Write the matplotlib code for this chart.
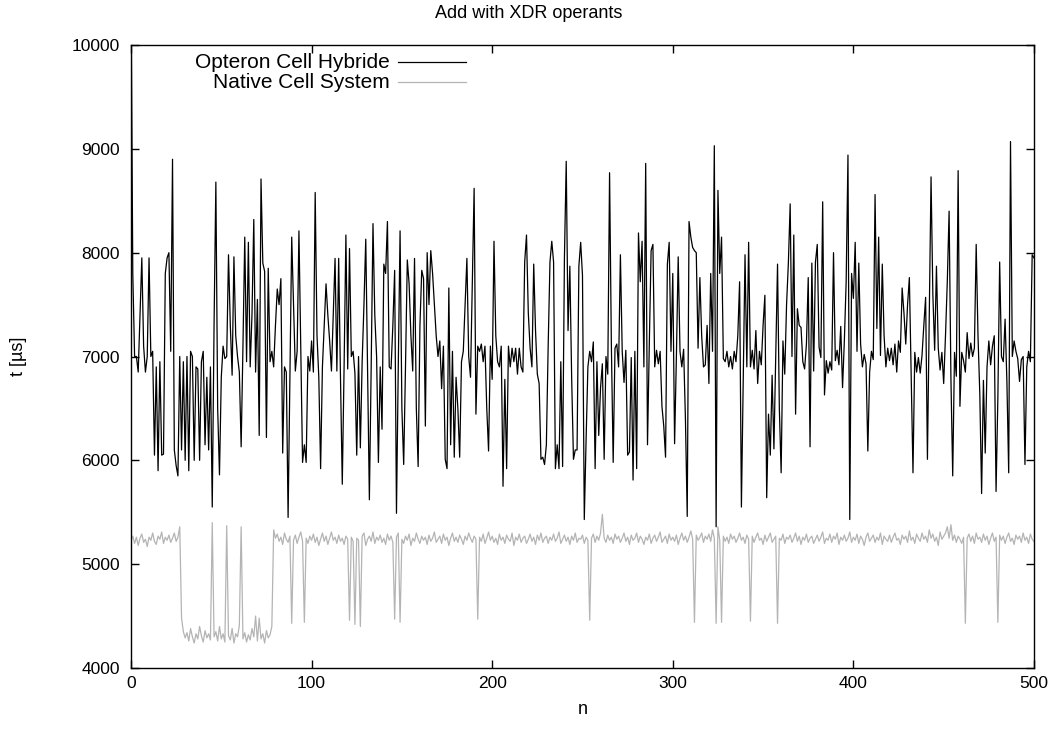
import numpy as np
import matplotlib
matplotlib.use("Agg")
import matplotlib.pyplot as plt
from matplotlib.lines import Line2D

plt.rcParams["font.family"] = ["Liberation Sans", "DejaVu Sans"]

TITLE = "Add with XDR operants"
LABEL_HYBRID = "Opteron Cell Hybride"
LABEL_NATIVE = "Native Cell System"

# t [us] per run (n = 0..500)
hybrid = [
    10600, 7800, 7000, 7000, 6850, 7400, 7950, 7100, 6850, 7000,
    7950, 7000, 7050, 6050, 6900, 5900, 6950, 6050, 6060, 7800,
    7950, 8000, 7050, 8900, 6100, 5950, 5850, 7000, 6100, 6950,
    6000, 7000, 5900, 7050, 7000, 6000, 6900, 6880, 6000, 6950,
    7050, 6150,
    6800, 6100, 6900, 5550, 7300, 8680, 6500, 5860, 6800, 7100,
    6980, 7000, 7980, 7300, 6820, 7960, 7200, 7000, 6850, 6130,
    7100, 8150, 6950, 8100, 6900, 7400, 8320, 6850, 7550, 6240,
    8710, 7900, 7820, 6220, 7850, 6950, 7050, 6900, 7300, 7650,
    7500, 7750,
    6070, 6900, 6850, 5450, 6800, 8150, 7500, 6860, 7050, 8210,
    7100, 5980, 6150, 5980, 7000, 6860, 7150, 6850, 8580, 7200,
    6800, 5920, 6900, 7300, 7700, 7400, 7150, 6860, 7400, 7945,
    6860, 7945, 6800, 5770, 6900, 8170, 6880, 8040, 7000, 7050,
    6840, 6050,
    7000, 6120, 6950, 7500, 8130, 6900, 5620, 6900, 8280, 7400,
    7000, 5980, 6900, 6300, 7890, 7800, 8300, 6900, 6880, 7300,
    7830, 5490, 6900, 8210, 6500, 5960, 6900, 7930, 7700, 7200,
    6860, 7945, 6500, 5940, 7300, 7830, 7750, 6330, 8000, 7500,
    8020, 7800,
    7500, 7200, 7000, 7150, 6690, 7100, 6010, 5920, 7660, 6150,
    7050, 6030, 6800, 6500, 6030, 6950, 7050, 7500, 7945, 7000,
    6800, 7700, 8620, 6445, 7100, 7050, 7120, 6950, 7100, 6500,
    6090, 7100, 6780, 8110, 7200, 6950, 6900, 7100, 5750, 6780,
    5920, 7100,
    6900, 7080, 6950, 7080, 6830, 7080, 6900, 6850, 7910, 8170,
    7420, 7080, 6900, 7890, 7250, 6830, 6740, 6010, 6030, 5960,
    6150, 7100, 7910, 8110, 7910, 5920, 6150, 5920, 6950, 5940,
    7950, 8880, 7250, 7870, 6800, 6010, 6100, 6100, 7870, 8100,
    7780, 5430,
    6200, 6900, 7050, 6950, 7140, 5920, 6950, 6240, 6700, 6930,
    6010, 7000, 6830, 8770, 7100, 5980, 7080, 7120, 6900, 7980,
    7050, 6750, 7060, 6050, 6080, 6990, 5810, 7050, 5920, 8190,
    7720, 8110, 6900, 8860, 6150, 7120, 8020, 8080, 6900, 7060,
    6930, 7050,
    6520, 6330, 6030, 7890, 8100, 7050, 7800, 6160, 7000, 7960,
    7050, 6900, 7070, 6400, 5460, 8300, 8150, 8050, 8020, 8000,
    7080, 7760, 7200, 6900, 6920, 7300, 6740, 7800, 7050, 9030,
    5360, 8600, 7800, 8150, 6980, 6950, 7050, 6900, 7000, 6880,
    7050, 6950,
    7200, 7720, 5550, 6800, 7980, 6900, 8100, 6900, 7060, 6880,
    7250, 6740, 7050, 6920, 7300, 7590, 5640, 6445, 6050, 6820,
    6110, 7000, 7890, 6500, 5880, 7150, 6830, 7500, 7900, 8470,
    7000, 8170, 6445, 7460, 7300, 7280, 6950, 6880, 7120, 7760,
    6130, 7900,
    6860, 7910, 8080, 7090, 6990, 8490, 6630, 6960, 6840, 6950,
    6870, 8000, 6960, 7060, 6920, 7290, 6700, 7150, 7720, 8940,
    5430, 7800, 7560, 8100, 7050, 7900, 7120, 6900, 7020, 6930,
    6090, 6850, 7050, 6970, 8560, 7270, 8150, 7010, 7890, 7200,
    6900, 7080,
    6960, 7080, 6920, 7120, 6850, 7150, 7040, 7660, 7420, 7120,
    7500, 7760, 6800, 5880, 7040, 6850, 6990, 6840, 7010, 7300,
    7570, 6010, 7400, 8730, 7600, 7060, 7870, 7080, 6870, 7040,
    6740, 7200, 7720, 8400, 6800, 5850, 7040, 6810, 8790, 6520,
    7040, 6960,
    6850, 7230, 6980, 7130, 7000, 7080, 8080, 7200, 6640, 5680,
    6770, 6070, 6900, 7150, 6920, 7100, 7200, 5700, 6600, 7910,
    7000, 6950, 7360, 6760, 5880, 9070, 7000, 7150, 7050, 6980,
    6760, 6970, 7000, 5960, 6900, 7050, 6950, 7980, 7950,
]

native = [
    5230, 5270, 5200, 5260, 5180, 5250, 5290, 5210, 5240, 5170,
    5260, 5230, 5300, 5220, 5190, 5270, 5240, 5310, 5200, 5260,
    5230, 5280, 5210, 5250, 5300, 5220, 5260, 5360,
    4480, 4350, 4290, 4340, 4260, 4380, 4300, 4240, 4330, 4280,
    4400, 4310, 4250, 4360, 4290, 4330, 4270, 5400, 4300, 4350,
    4260, 4400, 4280, 4330, 4250, 5370, 4310, 4270, 4380, 4240,
    4330, 4300, 4410, 5360, 4280, 4340, 4250, 4320, 4270, 4380,
    4300, 4500, 4260, 4480, 4280, 4330, 4240, 4360, 4290, 4320,
    4400, 5330,
    5250, 5290, 5220, 5260, 5190, 5300, 5240, 5210, 5270, 4430,
    5230, 5280, 5200, 5260, 5310, 5220, 4440, 5250, 5200, 5270,
    5230, 5290, 5210, 5260, 5180, 5240, 5300, 5220, 5270, 5190,
    5250, 5310, 5230, 5260, 5200, 5280, 5220, 5250, 5190, 5270,
    5240, 4460, 5260, 5220, 4420, 5250, 5230, 4400, 5270, 5300,
    5180, 5240, 5270, 5220, 5310, 5200, 5260, 5230, 5280, 5210,
    5250, 5190, 5290, 5230, 5270, 5210, 4470, 5260, 5300, 4440,
    5240, 5200, 5270, 5230, 5290, 5180, 5250, 5220, 5300, 5240,
    5200, 5270, 5230, 5260, 5190, 5280, 5220, 5250, 5310, 5210,
    5240, 5270, 5200, 5290, 5230, 5260, 5180, 5250, 5300, 5220,
    5260, 5210, 5280, 5240, 5190, 5270, 5230, 5300, 5250, 5210,
    5270, 5240, 4470, 5260, 5220, 5290, 5200, 5250, 5310, 5230,
    5270, 5210, 5250, 5190, 5290, 5230, 5260, 5200, 5280, 5240,
    5220, 5300, 5180, 5260, 5230, 5290, 5210, 5250, 5270, 5200,
    5240, 5290, 5220, 5260, 5190, 5280, 5230, 5300, 5210, 5250,
    5270, 5200, 5260, 5230, 5290, 5220, 5250, 5310, 5200, 5240,
    5280, 5220, 5260, 5190, 5270, 5230, 5300, 5210, 5250, 5240,
    5280, 5200, 5260, 5230, 4460, 5250, 5290, 5210, 5270, 5230,
    5300, 5480, 5250, 5210, 5280, 5230, 5260, 5200, 5290, 5240,
    5270, 5210, 5250, 5300, 5220, 5260, 5190, 5280, 5230, 5250,
    5300, 5210, 5270, 5240, 5190, 5260, 5230, 5290, 5200, 5250,
    5280, 5220, 5260, 5310, 5210, 5240, 5270, 5200, 5290, 5230,
    5260, 5220, 5280, 5190, 5250, 5300, 5230, 5270, 5210, 5260,
    5320, 5240, 4440, 5280, 5230, 5260, 5300, 5210, 5270, 5240,
    5290, 5220, 5330, 5250, 4430, 5360, 5230, 4440, 5270, 5220,
    5260, 5200, 5290, 5240, 5270, 5210, 5250, 5300, 5230, 5260,
    5200, 5280, 5240, 4450, 5270, 5210, 5260, 5300, 5230, 5250,
    5190, 5280, 5220, 5260, 5300, 5210, 5240, 5270, 4430, 5250,
    5230, 5290, 5200, 5260, 5240, 5280, 5210, 5250, 5300, 5220,
    5270, 5190, 5260, 5230, 5290, 5210, 5250, 5270, 5200, 5240,
    5280, 5220, 5260, 5310, 5200, 5250, 5230, 5290, 5210, 5270,
    5240, 5300, 5190, 5260, 5230, 5280, 5220, 5250, 5310, 5210,
    5260, 5230, 5290, 5200, 5270, 5240, 5180, 5260, 5300, 5220,
    5250, 5280, 5210, 5260, 5230, 5300, 5190, 5270, 5240, 5220,
    5280, 5210, 5260, 5300, 5230, 5250, 5190, 5280, 5240, 5270,
    5210, 5320, 5230, 5260, 5200, 5290, 5250, 5220, 5300, 5240,
    5270, 5210, 5330, 5250, 5290, 5220, 5260, 5180, 5310, 5240,
    5270, 5300, 5360, 5250, 5380, 5230, 5280, 5210, 5270, 5240,
    5200, 5260, 4430, 5250, 5290, 5220, 5270, 5200, 5300, 5240,
    5260, 5210, 5290, 5230, 5270, 5190, 5250, 5300, 5220, 5260,
    4440, 5280, 5230, 5270, 5200, 5260, 5300, 5220, 5250, 5190,
    5280, 5240, 5270, 5210, 5300, 5230, 5260, 5200, 5290, 5240,
    5220,
]

x_ticks = [0, 100, 200, 300, 400, 500]
y_ticks = [4000, 5000, 6000, 7000, 8000, 9000, 10000]

FS = 13
FS_TICK = 12.5
FS_KEY = 15

fig = plt.figure(figsize=(10.58, 7.31), dpi=100)
ax = fig.add_axes([0.1238, 0.0862, 0.8535, 0.8522])

n_h = np.arange(len(hybrid))
n_n = np.arange(len(native))
ax.plot(n_h, hybrid, color="black", linewidth=0.9, zorder=3)
ax.plot(n_n, native, color="#b4b4b4", linewidth=0.9, zorder=2)

ax.set_xlim(0, 500)
ax.set_ylim(4000, 10000)
ax.set_xticks(x_ticks)
ax.set_yticks(y_ticks)
ax.tick_params(direction="in", length=6, width=1, top=True, right=True,
               labelsize=FS_TICK)
ax.tick_params(axis="x", pad=6)
ax.tick_params(axis="y", pad=8)
for sp in ax.spines.values():
    sp.set_linewidth(1)

fig.text(0.5, 1 - 13 / 731, TITLE, ha="center", va="center", fontsize=FS)
ax.set_xlabel("n", fontsize=FS, va="center")
ax.xaxis.set_label_coords(0.5, -0.0674)
ax.set_ylabel("t [\u00b5s]", fontsize=FS, va="center")
ax.yaxis.set_label_coords(-0.125, 0.5)

# gnuplot-style key: right-aligned text followed by a line sample
key_rows = [(LABEL_HYBRID, "black", 0.9727), (LABEL_NATIVE, "#b4b4b4", 0.9406)]
for label, color, yy in key_rows:
    ax.text(0.2868, yy, label, transform=ax.transAxes, ha="right",
            va="center", fontsize=FS_KEY)
    ax.add_line(Line2D([0.2957, 0.371], [yy, yy], transform=ax.transAxes,
                       color=color, linewidth=0.9))

fig.savefig("out.png", dpi=100)
